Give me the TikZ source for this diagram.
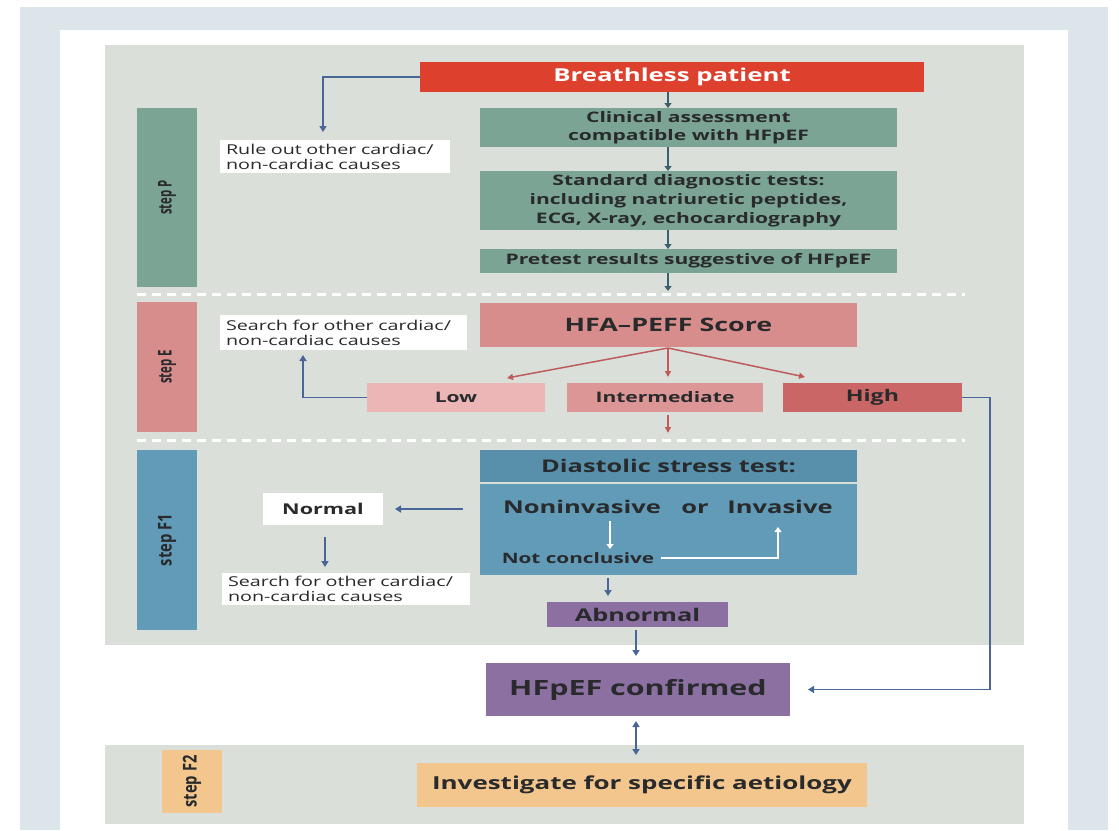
\documentclass[tikz,border=0pt]{standalone}
\usepackage{fontspec}
\setmainfont{Open Sans}[FakeStretch=1.45]
\newfontfamily\plainfont{Open Sans}
\usetikzlibrary{arrows.meta,calc}
\definecolor{outerC}{RGB}{220,230,234}
\definecolor{grayC}{RGB}{218,223,218}
\definecolor{redC}{RGB}{222,64,46}
\definecolor{greenC}{RGB}{124,164,148}
\definecolor{pinkC}{RGB}{216,141,141}
\definecolor{lowC}{RGB}{236,182,182}
\definecolor{interC}{RGB}{220,150,150}
\definecolor{highC}{RGB}{202,102,102}
\definecolor{blueC}{RGB}{98,155,183}
\definecolor{blueH}{RGB}{88,144,172}
\definecolor{purpleC}{RGB}{140,112,162}
\definecolor{peachC}{RGB}{243,198,142}
\definecolor{txtC}{RGB}{40,42,44}
\definecolor{lineC}{RGB}{72,102,152}
\definecolor{tealA}{RGB}{62,96,108}
\definecolor{pinkA}{RGB}{190,92,92}
\tikzset{
  box/.style={inner sep=0pt, outer sep=0pt, align=center, text=txtC},
  stepbar/.style={box, minimum width=60, font=\plainfont\bfseries\fontsize{19}{21}\selectfont},
  wbox/.style={box, fill=white, align=left, text=txtC, font=\fontsize{13.6}{15}\selectfont},
  arr/.style={line width=1.6pt, color=lineC, -{Triangle[length=6pt,width=7pt]}},
  sarr/.style={line width=2.2pt, color=tealA, -{Triangle[length=5pt,width=7pt]}},
  parr/.style={line width=1.5pt, color=pinkA, -{Triangle[length=6pt,width=6pt]}},
  warr/.style={line width=2.2pt, color=white, -{Triangle[length=5pt,width=7pt]}},
  sep/.style={white, line width=3pt, dash pattern=on 9pt off 6pt}
}
\begin{document}
\begin{tikzpicture}[x=1pt,y=-1pt]
\useasboundingbox (0,0) rectangle (1119,830);
\fill[white] (0,0) rectangle (1119,830);
\fill[outerC] (20,7) rectangle (1108,830);
\fill[white] (60,30) rectangle (1068,830);
\fill[grayC] (105,45) rectangle (1024,645);
\fill[grayC] (105,745) rectangle (1024,824);
\draw[sep] (137,294) -- (965,294);
\draw[sep] (137,440) -- (965,440);

% step bars
\node[stepbar, fill=greenC, minimum height=179] (stepP) at (167,197.5) {\rotatebox{90}{\scalebox{0.6}[1]{step P}}};
\node[stepbar, fill=pinkC, minimum height=130] (stepE) at (167,367) {\rotatebox{90}{\scalebox{0.6}[1]{step E}}};
\node[stepbar, fill=blueC, minimum height=180] (stepF1) at (167,540) {\rotatebox{90}{\scalebox{0.78}[1]{step F1}}};
\node[stepbar, fill=peachC, minimum height=63] (stepF2) at (192,781.5) {\rotatebox{90}{\scalebox{0.78}[1]{step F2}}};

% step P
\node[box, fill=redC, text=white, minimum width=504, minimum height=30, font=\bfseries\fontsize{17.8}{20}\selectfont] (breath) at (672,77) {Breathless patient};
\node[box, fill=greenC, minimum width=417, minimum height=39, font=\bfseries\fontsize{14.5}{17.5}\selectfont] (clin) at (688.5,127.5) {Clinical assessment\\compatible with HFpEF};
\node[box, fill=greenC, minimum width=417, minimum height=59, font=\bfseries\fontsize{14.5}{19}\selectfont] (std) at (688.5,200.5) {Standard diagnostic tests:\\including natriuretic peptides,\\ECG, X-ray, echocardiography};
\node[box, fill=greenC, minimum width=417, minimum height=24, font=\bfseries\fontsize{14.5}{17}\selectfont] (pre) at (688.5,261) {Pretest results suggestive of HFpEF};
\node[wbox, minimum width=230, minimum height=33, text width=218] (rule) at (335,156.5) {Rule out other cardiac/\\non-cardiac causes};

\coordinate (ra) at (323,132);
\draw[arr] (breath.west) -| (ra);
\draw[sarr] (breath.south -| 668,0) -- (clin.north -| 668,0);
\draw[sarr] (clin.south -| 668,0) -- (std.north -| 668,0);
\draw[sarr] (std.south -| 668,0) -- (pre.north -| 668,0);
\coordinate (pe) at (668,291);
\draw[sarr] (pre.south -| 668,0) -- (pe);

% step E
\node[box, fill=pinkC, minimum width=377, minimum height=44, font=\bfseries\fontsize{18.5}{21}\selectfont] (hfa) at (668.5,325) {HFA--PEFF Score};
\node[wbox, minimum width=247, minimum height=35, text width=235] (search1) at (343.5,332.5) {Search for other cardiac/\\non-cardiac causes};
\node[box, fill=lowC, minimum width=178, minimum height=29, font=\bfseries\fontsize{14.5}{16}\selectfont] (low) at (456,397.5) {Low};
\node[box, fill=interC, minimum width=196, minimum height=29, font=\bfseries\fontsize{14.5}{16}\selectfont] (inter) at (665,397.5) {Intermediate};
\node[box, fill=highC, minimum width=179, minimum height=29, font=\bfseries\fontsize{16}{18}\selectfont] (high) at (872.5,397.5) {High};

\coordinate (hs) at (668,348);
\coordinate (tl) at (507,378);
\coordinate (ti) at (668,377);
\coordinate (th) at (805,377);
\draw[parr] (hs) -- (tl);
\draw[parr] (hs) -- (ti);
\draw[parr] (hs) -- (th);
\coordinate (sa) at (303,355);
\draw[arr] (low.west) -| (sa);
\coordinate (ie) at (668,433);
\draw[parr] (inter.south -| 668,0) ++(0,3) -- (ie);

% step F1
\node[box, fill=blueH, minimum width=377, minimum height=32, font=\bfseries\fontsize{17.5}{20}\selectfont] (dhead) at (668.5,466) {Diastolic stress test:};
\node[box, fill=blueC, minimum width=377, minimum height=91] (dbody) at (668.5,529.5) {};
\node[box, anchor=base, font=\bfseries\fontsize{17.6}{20}\selectfont] (noninv) at (582,513) {Noninvasive};
\node[box, anchor=base, font=\bfseries\fontsize{17.6}{20}\selectfont] (or) at (695,513) {or};
\node[box, anchor=base, font=\bfseries\fontsize{17.6}{20}\selectfont] (inv) at (780,513) {Invasive};
\node[box, font=\bfseries\fontsize{14.3}{16}\selectfont] (notc) at (578,558) {Not conclusive};
\draw[warr] (610,521) -- (610,549);
\draw[warr] (notc.east) ++(7,0) -- (778,558) -- (778,527);

\node[wbox, align=center, minimum width=120, minimum height=32, font=\bfseries\fontsize{14.9}{16}\selectfont] (normal) at (323,509) {Normal};
\node[wbox, minimum width=248, minimum height=32, text width=236] (search2) at (346,589) {Search for other cardiac/\\non-cardiac causes};
\draw[arr, shorten <=17pt, shorten >=12pt] (dbody.west |- normal.east) -- (normal.east);
\draw[arr, shorten <=12pt, shorten >=6pt] (normal.south -| 325,0) -- (search2.north -| 325,0);

\node[box, fill=purpleC, minimum width=181, minimum height=25, font=\bfseries\fontsize{17.5}{19}\selectfont] (abn) at (637.5,614.5) {Abnormal};
\draw[arr, shorten <=3pt, shorten >=6pt] (dbody.south -| 608,0) -- (abn.north -| 608,0);

\node[box, fill=purpleC, minimum width=304, minimum height=53, font=\bfseries\fontsize{21}{24}\selectfont] (hf) at (638,689.5) {HFpEF confirmed};
\draw[arr, shorten <=3pt, shorten >=7pt] (abn.south -| 636,0) -- (hf.north -| 636,0);
\draw[arr, shorten >=18pt] (high.east) -- (990,397.5) |- (hf.east);

% step F2
\node[box, fill=peachC, minimum width=450, minimum height=44, font=\bfseries\fontsize{17.9}{20}\selectfont] (inv2) at (642,785) {Investigate for specific aetiology};
\draw[line width=1.6pt, color=lineC, {Triangle[length=6pt,width=7pt]}-{Triangle[length=6pt,width=7pt]}, shorten <=5pt, shorten >=8pt] (hf.south -| 636,0) -- (inv2.north -| 636,0);
\end{tikzpicture}
\end{document}
